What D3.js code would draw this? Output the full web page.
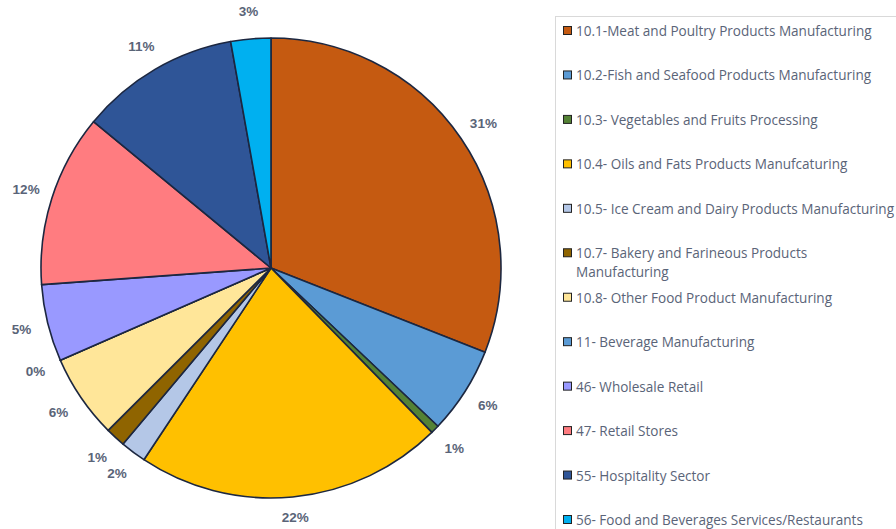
<!DOCTYPE html>
<html><head><meta charset="utf-8">
<script src="https://cdn.jsdelivr.net/npm/d3@7"></script>
<style>body{margin:0;background:#fff;} svg{display:block;}</style>
</head><body>
<svg id="c" width="896" height="529"></svg>
<script>
const categories = [
  "10.1-Meat and Poultry Products Manufacturing",
  "10.2-Fish and Seafood Products Manufacturing",
  "10.3- Vegetables and Fruits Processing",
  "10.4- Oils and Fats Products Manufcaturing",
  "10.5- Ice Cream and Dairy Products Manufacturing",
  "10.7- Bakery and Farineous Products|Manufacturing",
  "10.8- Other Food Product Manufacturing",
  "11- Beverage Manufacturing",
  "46- Wholesale Retail",
  "47- Retail Stores",
  "55- Hospitality Sector",
  "56- Food and Beverages Services/Restaurants"
];
const values = [30.9, 6.1, 0.6, 21.6, 1.8, 1.4, 5.9, 0, 5.4, 12.1, 11.2, 2.8];
const colors = ["#C55A11","#5B9BD5","#548235","#FFC000","#B4C7E7","#8F6400","#FFE699","#5B9BD5","#9999FF","#FF7C80","#2F5597","#00B0F0"];

const svg = d3.select("#c");
const cx = 271, cy = 268, R = 230, LR = 257;
const total = d3.sum(values);
const pie = d3.pie().sort(null).value(d => d)(values);
const arc = d3.arc().innerRadius(0).outerRadius(R);
const lab = d3.arc().innerRadius(LR).outerRadius(LR);
const g = svg.append("g").attr("transform", `translate(${cx},${cy})`);
g.selectAll("path").data(pie).join("path")
  .attr("d", arc).attr("fill", (d,i) => colors[i])
  .attr("stroke", "#1c2740").attr("stroke-width", 1.6).attr("stroke-linejoin","round");
g.selectAll("text").data(pie).join("text")
  .attr("transform", d => { const [x,y] = lab.centroid(d); return `translate(${x},${Math.min(y, 517-cy)})`; })
  .attr("text-anchor","middle").attr("dominant-baseline","central")
  .attr("font-family","Liberation Sans, Arial, sans-serif").attr("font-weight","bold")
  .attr("font-size", 13.5).attr("fill","#5a6478")
  .text(d => Math.round(d.value / total * 100) + "%");

// legend
const lg = svg.append("g");
lg.append("rect").attr("x",555.5).attr("y",16.5).attr("width",360).attr("height",540)
  .attr("fill","#fff").attr("stroke","#d9d9d9");
const ys = d3.scaleLinear().domain([0, categories.length-1]).range([31, 520]);
categories.forEach((c,i) => {
  const y = ys(i);
  lg.append("rect").attr("x",563.5).attr("y",y-4.5).attr("width",8).attr("height",8)
    .attr("fill",colors[i]).attr("stroke","#222").attr("stroke-width",1);
  const t = lg.append("text").attr("x",576).attr("y",y)
    .attr("dominant-baseline","central")
    .attr("font-family","Open Sans, sans-serif").attr("font-size",13.55).attr("fill","#5a6478");
  c.split("|").forEach((line,j) => {
    t.append("tspan").attr("x",576).attr("dy", j===0?0:19).text(line);
  });
});
</script>
</body></html>
